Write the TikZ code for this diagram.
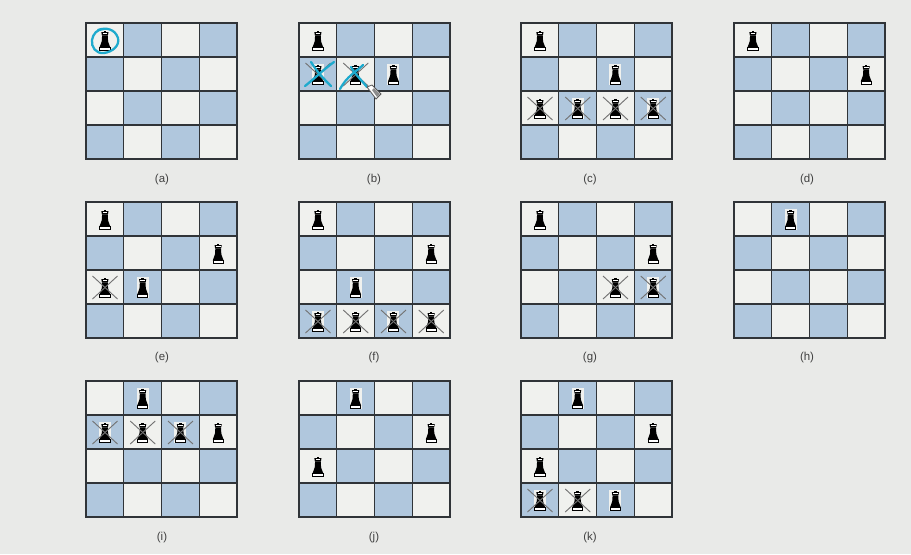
\documentclass[tikz,border=0pt]{standalone}
\usepackage{fontspec}
\setmainfont{Liberation Sans}
\definecolor{pagebg}{RGB}{233,234,232}
\definecolor{cellblue}{RGB}{176,199,221}
\definecolor{cellwhite}{RGB}{240,241,238}
\definecolor{gridline}{RGB}{48,52,56}
\definecolor{markblue}{RGB}{30,170,205}
\tikzset{
  boardlabel/.style={font=\fontsize{8.6}{10}\selectfont,color=black!75,inner sep=0.75pt},
  crossline/.style={color=black!55,line width=0.7pt},
  penmark/.style={color=markblue,line width=1.7pt,line cap=round},
}
% one board: left, top
\newcommand{\chessboard}[2]{
  \foreach \c in {0,1,2,3}{
    \foreach \r in {0,1,2,3}{
      \pgfmathtruncatemacro{\odd}{mod(\c+\r,2)}
      \ifnum\odd=1 \def\cellcol{cellblue}\else\def\cellcol{cellwhite}\fi
      \fill [\cellcol] (#1+\c*37.75,#2+\r*34) rectangle ++(37.75,34);
    }
  }
  \foreach \c in {0,1,2,3,4}{
    \draw [gridline,line width=1.1pt,line cap=rect] (#1+\c*37.75,#2) -- ++(0,136);
    \draw [gridline,line width=1.1pt,line cap=rect] (#1,#2+\c*34) -- ++(151,0);
  }
}
% one queen: left, top of board, column, row
\newcommand{\queen}[4]{
  \begin{scope}[shift={(#1+#3*37.75+18.9,#2+#4*34+17)}]
    \fill [cellwhite] (-6,-10) rectangle (6,11);
    \fill [black] (-1.2,-9.5) rectangle (1.2,-8);
    \fill [black] (-3.6,-8) -- (3.6,-8) -- (3,-4.5) -- (-3,-4.5) -- cycle;
    \fill [white] (-2.4,-6.7) rectangle (2.4,-5.7);
    \fill [black] (-2.8,-4.5) -- (2.8,-4.5) -- (3.2,1.5) -- (5.4,7.5) -- (-5.4,7.5) -- (-3.2,1.5) -- cycle;
    \draw [black,fill=white,line width=0.6pt] (-5.2,7.5) rectangle (5.2,10);
  \end{scope}
}
% queen with a cross on it
\newcommand{\crossqueen}[4]{
  \queen{#1}{#2}{#3}{#4}
  \draw [crossline] (#1+#3*37.75+6.5,#2+#4*34+6) -- (#1+#3*37.75+31.5,#2+#4*34+29);
  \draw [crossline] (#1+#3*37.75+31.5,#2+#4*34+6) -- (#1+#3*37.75+6.5,#2+#4*34+29);
}
\begin{document}
\begin{tikzpicture}[x=0.75pt,y=0.75pt,yscale=-1,xscale=1]
\useasboundingbox (0,0) rectangle (911,554);
\fill [pagebg] (0,0) rectangle (911,554);

% boards
\foreach \bx/\by in {86/23,299/23,521/23,734/23,86/202,299/202,521/202,734/202,86/381,299/381,521/381}{
  \chessboard{\bx}{\by}
}

% (a)
\queen{86}{23}{0}{0}
% (b)
\queen{299}{23}{0}{0}
\crossqueen{299}{23}{0}{1}
\crossqueen{299}{23}{1}{1}
\queen{299}{23}{2}{1}
% (c)
\queen{521}{23}{0}{0}
\queen{521}{23}{2}{1}
\foreach \c in {0,1,2,3}{ \crossqueen{521}{23}{\c}{2} }
% (d)
\queen{734}{23}{0}{0}
\queen{734}{23}{3}{1}
% (e)
\queen{86}{202}{0}{0}
\queen{86}{202}{3}{1}
\crossqueen{86}{202}{0}{2}
\queen{86}{202}{1}{2}
% (f)
\queen{299}{202}{0}{0}
\queen{299}{202}{3}{1}
\queen{299}{202}{1}{2}
\foreach \c in {0,1,2,3}{ \crossqueen{299}{202}{\c}{3} }
% (g)
\queen{521}{202}{0}{0}
\queen{521}{202}{3}{1}
\crossqueen{521}{202}{2}{2}
\crossqueen{521}{202}{3}{2}
% (h)
\queen{734}{202}{1}{0}
% (i)
\queen{86}{381}{1}{0}
\foreach \c in {0,1,2}{ \crossqueen{86}{381}{\c}{1} }
\queen{86}{381}{3}{1}
% (j)
\queen{299}{381}{1}{0}
\queen{299}{381}{3}{1}
\queen{299}{381}{0}{2}
% (k)
\queen{521}{381}{1}{0}
\queen{521}{381}{3}{1}
\queen{521}{381}{0}{2}
\crossqueen{521}{381}{0}{3}
\crossqueen{521}{381}{1}{3}
\queen{521}{381}{2}{3}

% pen marks
\draw [penmark] (98,30) .. controls (106,27) and (115,29) .. (118,38) .. controls (120,46) and (112,52) .. (104,53) .. controls (96,54) and (91,47) .. (92,40) .. controls (93,34) and (97,29) .. (104,29);
\draw [penmark] (305,86) .. controls (314,79) and (323,70) .. (334,62);
\draw [penmark] (311,62) .. controls (317,72) and (325,80) .. (331,86);
\draw [penmark] (340,89) .. controls (347,76) and (356,72) .. (363,65);
\draw [penmark] (351,67) .. controls (355,74) and (362,81) .. (367,87);

% cursor
\draw [black!65,fill=white,line width=0.6pt] (367,87) -- (372,85) -- (381,94) -- (376,99) -- cycle;
\fill [black!45] (372,90) -- (374,88) -- (380,94) -- (377,97) -- cycle;

% Text Node
\node [boardlabel] (laba) at (162,180) {(a)};
\node [boardlabel] (labb) at (374,180) {(b)};
\node [boardlabel] (labc) at (590,180) {(c)};
\node [boardlabel] (labd) at (807,180) {(d)};
\node [boardlabel] (labe) at (162,358) {(e)};
\node [boardlabel] (labf) at (374,358) {(f)};
\node [boardlabel] (labg) at (590,358) {(g)};
\node [boardlabel] (labh) at (807,358) {(h)};
\node [boardlabel] (labi) at (162,538) {(i)};
\node [boardlabel] (labj) at (374,538) {(j)};
\node [boardlabel] (labk) at (590,538) {(k)};
\end{tikzpicture}
\end{document}
